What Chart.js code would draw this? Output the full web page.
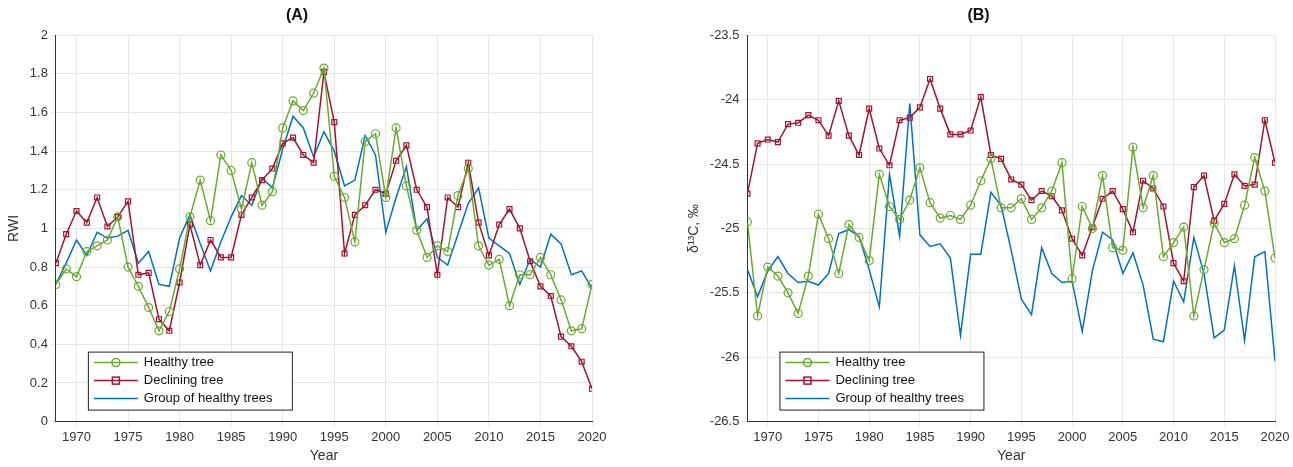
<!DOCTYPE html>
<html><head><meta charset="utf-8">
<script src="https://cdn.jsdelivr.net/npm/chart.js@4"></script>
<style>body{margin:0;background:#fff;font-family:"Liberation Sans",Arial,sans-serif}
#a{position:absolute;left:0;top:0;width:610px;height:467px}
#b{position:absolute;left:680px;top:0;width:613px;height:467px}</style></head>
<body><div id="a"><canvas id="ca"></canvas></div><div id="b"><canvas id="cb"></canvas></div>
<script>
const years=[];for(let y=1968;y<=2020;y++)years.push(y);
const xTicks=[1970,1975,1980,1985,1990,1995,2000,2005,2010,2015,2020];
const rwiHealthy=[.71,.79,.75,.88,.91,.94,1.06,.80,.70,.59,.47,.57,.79,1.06,1.25,1.04,1.38,1.30,1.10,1.34,1.12,1.19,1.52,1.66,1.61,1.70,1.83,1.27,1.16,.93,1.45,1.49,1.16,1.52,1.22,.99,.85,.91,.88,1.17,1.31,.91,.81,.84,.60,.76,.76,.85,.76,.63,.47,.48,.71];
const rwiDeclining=[.82,.97,1.09,1.03,1.16,1.01,1.06,1.14,.76,.77,.53,.47,.72,1.02,.81,.94,.85,.85,1.07,1.16,1.25,1.31,1.44,1.47,1.38,1.34,1.81,1.55,.87,1.07,1.12,1.20,1.18,1.35,1.43,1.20,1.11,.76,1.16,1.11,1.34,1.03,.86,1.02,1.10,1.00,.83,.70,.65,.44,.39,.31,.17];
const rwiGroup=[.71,.82,.94,.86,.98,.95,.96,.99,.82,.88,.71,.70,.95,1.07,.92,.78,.93,1.06,1.17,1.12,1.26,1.21,1.41,1.58,1.52,1.37,1.50,1.40,1.22,1.25,1.48,1.38,.98,1.16,1.32,.99,1.05,.85,.81,.97,1.13,1.21,.95,.91,.87,.71,.84,.80,.97,.92,.76,.78,.69];
const d13Healthy=[-24.95,-25.68,-25.30,-25.37,-25.50,-25.66,-25.37,-24.89,-25.08,-25.35,-24.97,-25.07,-25.25,-24.58,-24.83,-24.93,-24.78,-24.53,-24.80,-24.92,-24.90,-24.93,-24.82,-24.63,-24.46,-24.84,-24.84,-24.77,-24.93,-24.84,-24.71,-24.49,-25.39,-24.83,-25.00,-24.59,-25.15,-25.17,-24.37,-24.84,-24.59,-25.22,-25.11,-24.99,-25.68,-25.32,-24.96,-25.11,-25.08,-24.82,-24.45,-24.71,-25.23];
const d13Declining=[-24.73,-24.34,-24.31,-24.33,-24.19,-24.18,-24.12,-24.16,-24.28,-24.01,-24.28,-24.43,-24.07,-24.38,-24.51,-24.16,-24.14,-24.06,-23.84,-24.07,-24.27,-24.27,-24.24,-23.98,-24.43,-24.46,-24.62,-24.66,-24.78,-24.71,-24.75,-24.86,-25.08,-25.21,-24.99,-24.77,-24.71,-24.85,-25.03,-24.63,-24.69,-24.83,-25.27,-25.41,-24.68,-24.59,-24.94,-24.81,-24.58,-24.67,-24.66,-24.16,-24.49];
const d13Group=[-25.32,-25.53,-25.33,-25.22,-25.35,-25.42,-25.41,-25.44,-25.35,-25.04,-25.01,-25.06,-25.32,-25.61,-24.58,-25.06,-24.03,-25.05,-25.14,-25.12,-25.23,-25.83,-25.20,-25.20,-24.72,-24.82,-25.17,-25.55,-25.67,-25.15,-25.35,-25.42,-25.41,-25.80,-25.33,-25.03,-25.09,-25.35,-25.19,-25.44,-25.86,-25.88,-25.41,-25.57,-25.07,-25.35,-25.85,-25.79,-25.29,-25.87,-25.22,-25.18,-26.03];
const G='#6aaa2e',R='#a2142f',B='#0072bd';
const pts=a=>a.map((v,i)=>({x:years[i],y:v}));
const legendPlugin={id:'lg',afterDatasetsDraw(c,args,o){const ctx=c.ctx,a=c.chartArea;
 const x0=a.left+o.dx,y0=a.bottom-o.dy-62,w=o.w,h=58;ctx.save();
 ctx.fillStyle='#fff';ctx.fillRect(x0,y0,w,h);ctx.strokeStyle='#222';ctx.lineWidth=1;ctx.strokeRect(x0+.5,y0+.5,w,h);
 ctx.font='13px "Liberation Sans",Arial';ctx.textBaseline='middle';
 c.data.datasets.forEach((d,i)=>{const yy=y0+11+i*18;ctx.strokeStyle=d.borderColor;ctx.lineWidth=1.5;
  ctx.beginPath();ctx.moveTo(x0+6,yy);ctx.lineTo(x0+50,yy);ctx.stroke();
  if(d.pointStyle==='circle'){ctx.beginPath();ctx.arc(x0+28,yy,4,0,7);ctx.stroke();}
  else if(d.pointRadius>0){ctx.strokeRect(x0+24.5,yy-3.5,7,7);}
  ctx.fillStyle='#111';ctx.fillText(d.label,x0+56,yy);});
 ctx.restore();}};
function mk(id,title,ylabel,h,d,g,ymin,ymax,step,pad,lgw){
 const ds=[{label:'Healthy tree',data:pts(h),borderColor:G,pointStyle:'circle',pointRadius:4,pointBorderColor:G,pointBackgroundColor:'rgba(0,0,0,0)',pointBorderWidth:1.2,borderWidth:1.5},
 {label:'Declining tree',data:pts(d),borderColor:R,pointStyle:'rect',pointRadius:3.5,pointBorderColor:R,pointBackgroundColor:'rgba(0,0,0,0)',pointBorderWidth:1.2,borderWidth:1.5},
 {label:'Group of healthy trees',data:pts(g),borderColor:B,pointRadius:0,borderWidth:1.5}];
 new Chart(document.getElementById(id),{type:'line',data:{datasets:ds},plugins:[legendPlugin],options:{
  responsive:true,maintainAspectRatio:false,animation:false,layout:{padding:pad},
  plugins:{legend:{display:false},tooltip:{enabled:false},lg:{dx:32,dy:8,w:lgw},
   title:{display:true,text:title,color:'#111',font:{size:16,weight:'bold',family:'"Liberation Sans",Arial'},padding:{top:6,bottom:10}}},
  scales:{x:{type:'linear',min:1968,max:2020,afterBuildTicks:s=>{s.ticks=xTicks.map(v=>({value:v}))},
    ticks:{color:'#333',font:{size:13},maxRotation:0,callback:v=>v},grid:{color:'#e6e6e6',tickLength:5},border:{color:'#333'},
    title:{display:true,text:'Year',color:'#333',font:{size:14},padding:0}},
   y:{min:ymin,max:ymax,ticks:{stepSize:step,color:'#333',font:{size:13},callback:v=>String(Math.round(v*10)/10)},grid:{color:'#e6e6e6',tickLength:5},border:{color:'#333'},
    title:{display:true,text:ylabel,color:'#333',font:{size:14}}}}}});}
mk('ca','(A)','RWI',rwiHealthy,rwiDeclining,rwiGroup,0,2,0.2,{left:2,right:18,top:0,bottom:2},204);
mk('cb','(B)','δ¹³C, ‰',d13Healthy,d13Declining,d13Group,-26.5,-23.5,0.5,{left:2,right:18,top:0,bottom:2},204);
</script></body></html>
